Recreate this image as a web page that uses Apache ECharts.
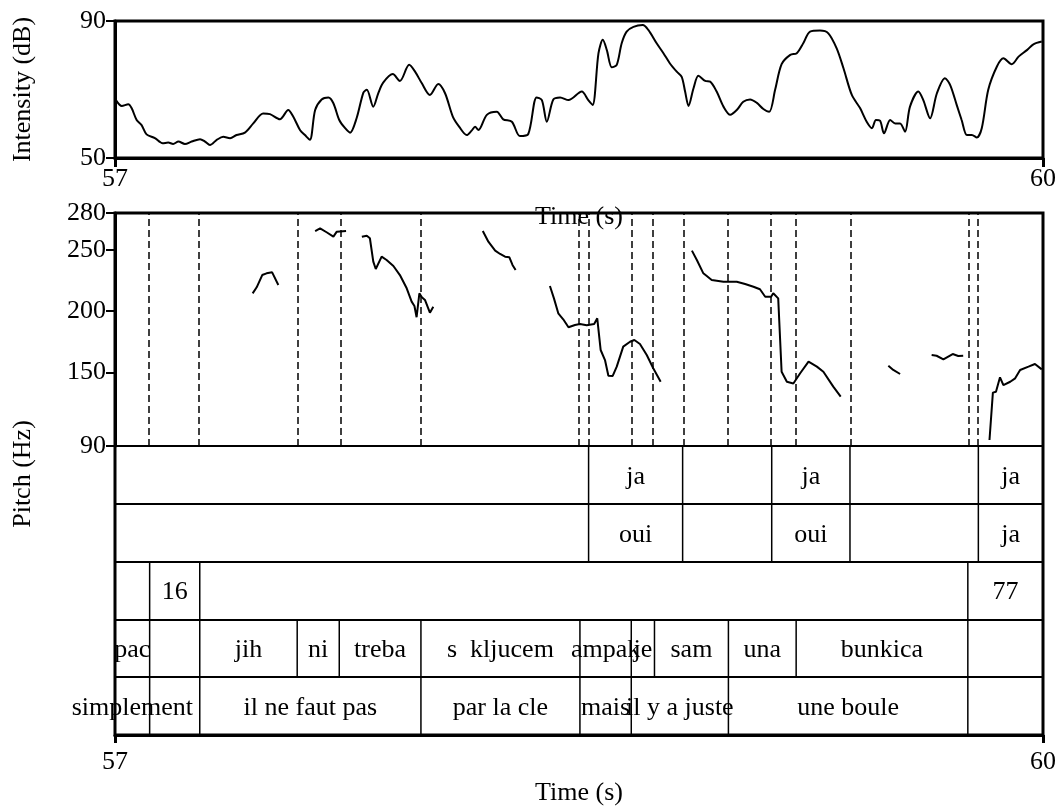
<!DOCTYPE html>
<html>
<head>
<meta charset="utf-8">
<script src="https://cdn.jsdelivr.net/npm/echarts@6/dist/echarts.min.js"></script>
<style>html,body{margin:0;background:#fff}#main{width:1063px;height:807px}</style>
</head>
<body>
<div id="main"></div>
<script>
var FONT = 'Liberation Serif';
var tMin = 57, tMax = 60;

// intensity contour (s, dB)
var intTime = [57.003,57.022,57.043,57.054,57.070,57.086,57.102,57.129,57.154,57.172,57.188,57.205,57.226,57.248,57.275,57.291,57.307,57.329,57.350,57.372,57.393,57.420,57.447,57.479,57.501,57.533,57.560,57.576,57.598,57.614,57.630,57.647,57.668,57.690,57.706,57.725,57.744,57.760,57.781,57.803,57.814,57.835,57.851,57.867,57.898,57.921,57.951,57.970,57.992,58.018,58.045,58.067,58.092,58.113,58.137,58.153,58.164,58.175,58.202,58.234,58.255,58.283,58.309,58.336,58.363,58.380,58.396,58.417,58.439,58.466,58.509,58.530,58.544,58.563,58.577,58.590,58.606,58.622,58.638,58.654,58.676,58.706,58.724,58.751,58.773,58.794,58.816,58.832,58.843,58.854,58.870,58.886,58.908,58.924,58.945,58.967,58.989,59.010,59.031,59.053,59.075,59.096,59.115,59.134,59.155,59.183,59.204,59.225,59.247,59.279,59.306,59.333,59.355,59.382,59.409,59.430,59.447,59.460,59.473,59.486,59.506,59.522,59.538,59.554,59.570,59.597,59.613,59.635,59.657,59.683,59.700,59.721,59.737,59.754,59.770,59.786,59.802,59.823,59.851,59.872,59.899,59.921,59.948,59.969,59.996];
var intDb = [66.9,65.2,65.7,64.5,61.1,59.6,56.9,55.8,54.3,54.5,54.1,54.8,54.1,54.8,55.5,54.8,53.8,55.3,56.2,55.8,56.7,57.4,60.1,63.0,62.8,61.3,64.0,62.1,58.2,56.7,55.3,64.0,67.1,67.7,66.0,61.1,58.7,57.4,61.6,69.1,69.9,65.0,68.9,72.0,74.5,72.5,77.2,75.2,71.8,68.4,71.6,68.9,62.1,59.1,56.7,58.0,59.1,58.2,62.6,63.5,61.3,60.6,56.4,57.0,67.7,66.9,60.6,67.1,67.7,66.9,69.4,66.9,65.5,80.6,84.5,81.5,76.5,77.2,83.5,86.9,88.3,88.8,87.4,83.5,80.6,77.6,75.2,73.7,69.4,65.2,70.3,74.0,72.5,72.3,69.4,65.0,62.6,64.0,66.4,67.1,66.1,64.3,63.5,69.9,77.4,80.1,80.6,83.5,86.9,87.2,86.4,82.0,76.2,68.4,64.5,60.6,58.7,61.1,60.9,57.2,61.1,60.1,60.1,57.7,65.0,69.4,66.9,61.6,68.9,73.3,71.3,65.5,61.1,56.7,56.7,56.0,58.7,69.9,76.7,79.1,77.4,79.6,81.5,83.2,84.0];

// pitch contour pieces [s, Hz]
var f0Seg1 = [[57.445,214.5],[57.458,219.4],[57.476,229.4],[57.490,230.8],[57.508,231.6],[57.528,221.3]];
var f0Seg2 = [[57.647,265.3],[57.663,267.5],[57.684,264.3],[57.706,260.7],[57.717,264.8],[57.747,265.3]];
var f0Seg3 = [[57.798,260.7],[57.814,261.5],[57.824,259.4],[57.835,240.3],[57.843,234.3],[57.862,244.4],[57.878,241.7],[57.900,236.8],[57.921,229.4],[57.943,218.6],[57.959,207.7],[57.968,204.2],[57.975,195.0],[57.984,214.5],[57.992,211.3],[58.002,209.1],[58.018,198.7],[58.029,203.6]];
var f0Seg4 = [[58.189,265.3],[58.207,256.6],[58.229,249.3],[58.245,246.6],[58.261,244.4],[58.275,243.9],[58.285,237.6],[58.295,233.5]];
var f0Seg5 = [[58.406,220.5],[58.419,210.4],[58.433,198.2],[58.449,193.3],[58.466,186.8],[58.487,188.7],[58.503,189.5],[58.525,188.4],[58.549,189.5],[58.559,194.1],[58.570,168.3],[58.584,160.1],[58.595,147.3],[58.609,147.1],[58.622,154.7],[58.643,171.0],[58.665,175.0],[58.679,176.4],[58.697,173.2],[58.719,164.2],[58.740,153.4],[58.764,142.4]];
var f0Seg6 = [[58.865,249.3],[58.881,241.7],[58.902,230.8],[58.929,225.4],[58.967,224.0],[59.010,224.0],[59.037,222.1],[59.064,219.9],[59.085,217.8],[59.102,211.7],[59.121,211.7],[59.128,214.5],[59.144,210.4],[59.155,150.6],[59.172,142.4],[59.193,141.0],[59.215,149.3],[59.242,158.8],[59.269,154.7],[59.290,150.6],[59.322,138.4],[59.346,130.2]];
var f0Seg7 = [[59.500,155.5],[59.516,152.0],[59.538,148.7]];
var f0Seg8 = [[59.640,164.2],[59.656,163.6],[59.678,160.7],[59.708,165.0],[59.726,163.4],[59.742,163.6]];
var f0Seg9 = [[59.827,94.9],[59.838,133.5],[59.848,134.3],[59.861,146.0],[59.872,139.7],[59.894,142.4],[59.910,145.2],[59.926,152.0],[59.953,154.7],[59.974,156.9],[59.996,152.5]];

var pitchTicks = [90, 150, 200, 250, 280];
var intTicks = [50, 90];

// textgrid tiers: inner boundaries + interval labels
var tier1Bounds = [58.531, 58.835, 59.123, 59.376, 59.791];
var tier1Labels = ['', 'ja', '', 'ja', '', 'ja'];
var tier2Bounds = [58.531, 58.835, 59.123, 59.376, 59.791];
var tier2Labels = ['', 'oui', '', 'oui', '', 'ja'];
var tier3Bounds = [57.112, 57.274, 59.757];
var tier3Labels = ['', '16', '', '77'];
var tier4Bounds = [57.112, 57.274, 57.589, 57.725, 57.989, 58.503, 58.669, 58.744, 58.983, 59.202, 59.757];
var tier4Labels = ['pac', '', 'jih', 'ni', 'treba', 's  kljucem', 'ampak', 'je', 'sam', 'una', 'bunkica', ''];
var tier5Bounds = [57.112, 57.274, 57.989, 58.503, 58.669, 58.983, 59.757];
var tier5Labels = ['simplement', '', 'il ne faut pas', 'par la cle', 'mais', 'il y a juste', 'une boule', ''];

var tiers = [
  [tier1Bounds, tier1Labels],
  [tier2Bounds, tier2Labels],
  [tier3Bounds, tier3Labels],
  [tier4Bounds, tier4Labels],
  [tier5Bounds, tier5Labels]
];

var tierItems = [];
var allBounds = [];
tiers.forEach(function (tier, i) {
  var edges = [tMin].concat(tier[0], [tMax]);
  tier[1].forEach(function (lab, k) {
    tierItems.push({ value: [i, edges[k], edges[k + 1]], label: lab });
  });
  tier[0].forEach(function (b) {
    if (allBounds.indexOf(b) < 0) allBounds.push(b);
  });
});
allBounds.sort();

var myChart = echarts.init(document.getElementById('main'));

var FS = 26;
var txt = { color: '#000', fontSize: FS, fontFamily: FONT };
var black3 = { color: '#000', width: 3 };

function pitchSeries(data, withMarks) {
  var s = {
    type: 'line', xAxisIndex: 1, yAxisIndex: 1, data: data,
    showSymbol: false, lineStyle: { color: '#000', width: 2 }, silent: true
  };
  if (withMarks) {
    // dashed lines at every tier boundary
    s.markLine = {
      silent: true, symbol: ['none', 'none'], label: { show: false },
      lineStyle: { color: '#000', width: 1.5, type: [7, 4] },
      data: allBounds.map(function (b) { return { xAxis: b }; })
    };
  }
  return s;
}

var option = {
  animation: false,
  backgroundColor: '#fff',
  grid: [
    { left: 115, top: 21, width: 928, height: 137, show: true, borderColor: '#000', borderWidth: 3 },
    { left: 115, top: 213, width: 928, height: 233 },
    { left: 115, top: 446, width: 928, height: 289 },
    { left: 115, top: 213, width: 928, height: 522, show: true, borderColor: '#000', borderWidth: 3 }
  ],
  xAxis: [
    { gridIndex: 0, type: 'value', min: tMin, max: tMax, interval: 3,
      axisLine: { lineStyle: black3 }, axisTick: { length: 9, lineStyle: black3 },
      axisLabel: Object.assign({ margin: 8, showMinLabel: true, showMaxLabel: true }, txt),
      splitLine: { show: false },
      name: 'Time (s)', nameLocation: 'middle', nameGap: 46, nameTextStyle: txt },
    { gridIndex: 1, type: 'value', min: tMin, max: tMax, show: false },
    { gridIndex: 2, type: 'value', min: tMin, max: tMax, interval: 3,
      axisLine: { lineStyle: black3 }, axisTick: { length: 8, lineStyle: black3 },
      axisLabel: Object.assign({ margin: 14, showMinLabel: true, showMaxLabel: true }, txt),
      splitLine: { show: false },
      name: 'Time (s)', nameLocation: 'middle', nameGap: 45, nameTextStyle: txt },
    { gridIndex: 3, type: 'value', min: 0, max: 1, show: false }
  ],
  yAxis: [
    { gridIndex: 0, type: 'value', min: 50, max: 90,
      axisLine: { show: true, lineStyle: black3 },
      axisTick: { show: true, length: 9, customValues: intTicks, lineStyle: { color: '#000', width: 2 } },
      axisLabel: Object.assign({ margin: 9, customValues: intTicks }, txt),
      splitLine: { show: false },
      name: 'Intensity (dB)', nameLocation: 'middle', nameRotate: 90, nameGap: 79, nameTextStyle: txt },
    { gridIndex: 1, type: 'value', min: 90, max: 280,
      axisLine: { show: true, lineStyle: black3 },
      axisTick: { show: true, length: 9, customValues: pitchTicks, lineStyle: { color: '#000', width: 2 } },
      axisLabel: Object.assign({ margin: 9, customValues: pitchTicks }, txt),
      splitLine: { show: false } },
    { gridIndex: 2, type: 'value', min: 0, max: 5, interval: 1,
      axisLine: { show: false }, axisTick: { show: false }, axisLabel: { show: false },
      splitLine: { show: true, lineStyle: { color: '#000', width: 2 } } },
    { gridIndex: 3, type: 'value', min: 0, max: 1,
      axisLine: { show: false }, axisTick: { show: false }, axisLabel: { show: false },
      splitLine: { show: false },
      name: 'Pitch (Hz)', nameLocation: 'middle', nameRotate: 90, nameGap: 79, nameTextStyle: txt }
  ],
  series: [
    { type: 'line', xAxisIndex: 0, yAxisIndex: 0, silent: true,
      data: intTime.map(function (t, i) { return [t, intDb[i]]; }),
      showSymbol: false, smooth: 0.3, lineStyle: { color: '#000', width: 2 } },
    pitchSeries(f0Seg1, true),
    pitchSeries(f0Seg2), pitchSeries(f0Seg3), pitchSeries(f0Seg4), pitchSeries(f0Seg5),
    pitchSeries(f0Seg6), pitchSeries(f0Seg7), pitchSeries(f0Seg8), pitchSeries(f0Seg9),
    { type: 'custom', xAxisIndex: 2, yAxisIndex: 2, silent: true,
      encode: { x: [1, 2], y: 0 },
      data: tierItems.map(function (d) { return d.value; }),
      renderItem: function (params, api) {
        var d = tierItems[params.dataIndex];
        var row = d.value[0];
        var top = api.coord([d.value[1], 5 - row]);
        var bot = api.coord([d.value[1], 4 - row]);
        var end = api.coord([d.value[2], 4 - row]);
        var children = [];
        if (d.value[1] > tMin) {
          children.push({ type: 'line', shape: { x1: top[0], y1: top[1], x2: bot[0], y2: bot[1] },
            style: { stroke: '#000', lineWidth: 1.5 } });
        }
        if (d.label) {
          children.push({ type: 'text', x: (top[0] + end[0]) / 2, y: (top[1] + bot[1]) / 2 + 2,
            style: { text: d.label, fill: '#000', fontSize: FS, fontFamily: FONT,
              align: 'center', verticalAlign: 'middle' } });
        }
        return { type: 'group', children: children };
      } }
  ]
};

myChart.setOption(option);
</script>
</body>
</html>
